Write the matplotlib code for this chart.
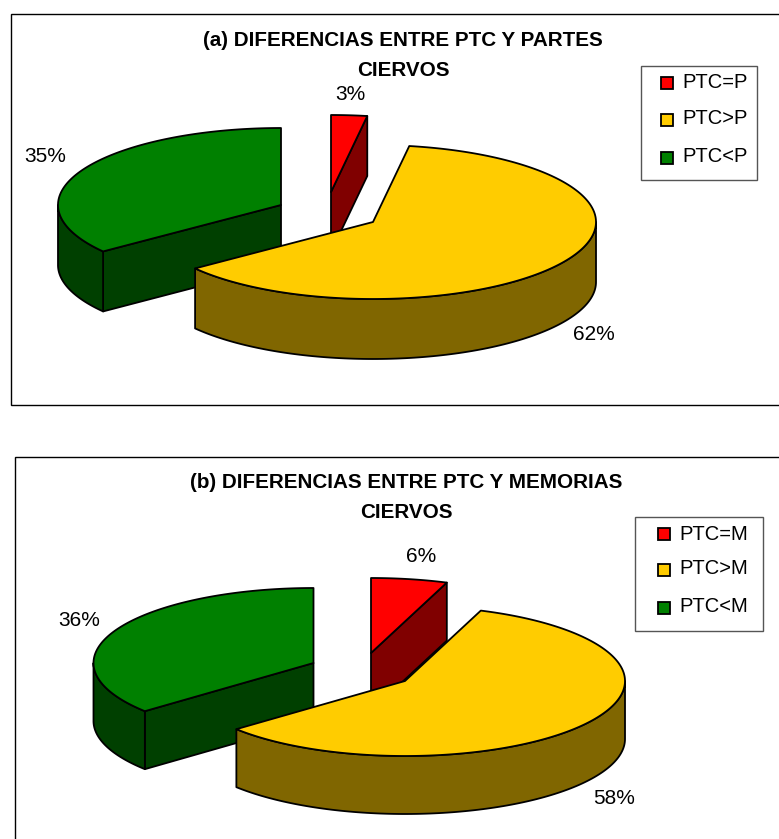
"""Two exploded 3D-style pie charts: PTC vs partes / memorias (ciervos)."""
import numpy as np
import matplotlib
matplotlib.use("Agg")
import matplotlib.pyplot as plt
from matplotlib.patches import Polygon, Rectangle

plt.rcParams["font.family"] = ["Liberation Sans", "DejaVu Sans"]

# ── Data ──────────────────────────────────────────────────────
values_a = [2.6, 62.1, 35.3]
values_b = [5.6, 58.3, 36.1]
legend_a = ["PTC=P", "PTC>P", "PTC<P"]
legend_b = ["PTC=M", "PTC>M", "PTC<M"]
title_a = ["(a) DIFERENCIAS ENTRE PTC Y PARTES", "CIERVOS"]
title_b = ["(b) DIFERENCIAS ENTRE PTC Y MEMORIAS", "CIERVOS"]

TOP_COLORS = ["#FF0000", "#FFCC00", "#008000"]
WALL_COLORS = ["#800000", "#806600", "#004000"]


def rim(apex, rx, ry, t):
    t = np.radians(t)
    return np.column_stack([apex[0] + rx * np.cos(t), apex[1] - ry * np.sin(t)])


def draw_slice(ax, apex, rx, ry, depth, t0, t1, top, wall):
    """Slice running clockwise from angle t0 down to t1, degrees."""
    kw = dict(edgecolor="black", linewidth=1.3, joinstyle="round")
    ap = np.array(apex, dtype=float)
    down = np.array([0, depth])

    # cut faces looking towards the viewer
    for t, show in ((t0, np.cos(np.radians(t0)) < -1e-6), (t1, np.cos(np.radians(t1)) > 1e-6)):
        if show:
            p = rim(ap, rx, ry, t)[0]
            ax.add_patch(Polygon([ap, p, p + down, ap + down], facecolor=wall, **kw))

    # outer wall, only the front half of the ellipse
    hi, lo = min(t0, 0), max(t1, -180)
    if hi > lo:
        arc = rim(ap, rx, ry, np.linspace(hi, lo, 120))
        ax.add_patch(Polygon(np.vstack([arc, (arc + down)[::-1]]), facecolor=wall, **kw))

    arc = rim(ap, rx, ry, np.linspace(t0, t1, 200))
    ax.add_patch(Polygon(np.vstack([ap, arc]), facecolor=top, **kw))


def draw_chart(ax, values, apexes, rx, ry, depth):
    edges = 90 - np.cumsum([0] + list(values)) * 3.6
    # back to front: green, red, yellow
    for i in (2, 0, 1):
        draw_slice(ax, apexes[i], rx, ry, depth, edges[i], edges[i + 1],
                   TOP_COLORS[i], WALL_COLORS[i])


def draw_legend(ax, box, labels, swatch_x, swatch_ys, text_x, text_ys):
    ax.add_patch(Rectangle((box[0], box[1]), box[2], box[3], facecolor="white",
                           edgecolor="#555555", linewidth=1.0))
    for lab, color, sy, ty in zip(labels, TOP_COLORS, swatch_ys, text_ys):
        ax.add_patch(Rectangle((swatch_x, sy), 12, 12, facecolor=color,
                               edgecolor="black", linewidth=1.3))
        ax.text(text_x, ty, lab, fontsize=LEGEND_FS, ha="left", va="center")


LEGEND_FS = 14.5
PCT_FS = 15
TITLE_FS = 14.9

fig = plt.figure(figsize=(7.79, 8.39), dpi=100)
ax = fig.add_axes([0, 0, 1, 1])
ax.set_xlim(0, 779)
ax.set_ylim(839, 0)
ax.axis("off")

# ── Frames ────────────────────────────────────────────────────
ax.add_patch(Rectangle((11.5, 13.5), 790, 391, facecolor="white", edgecolor="black", linewidth=1.0))
ax.add_patch(Rectangle((15.5, 456.5), 790, 420, facecolor="white", edgecolor="black", linewidth=1.0))

# ── Chart (a) ─────────────────────────────────────────────────
draw_chart(ax, values_a, [(331, 192), (373, 222), (281, 205)], 223, 77, 60)
for line, y in zip(title_a, (40, 70)):
    ax.text(403, y, line, fontsize=TITLE_FS, fontweight="bold", ha="center", va="center")
for v, x, y in zip(values_a, (350, 594, 45), (95, 335, 157)):
    ax.text(x, y, f"{round(v)}%", fontsize=PCT_FS, ha="center", va="center")
draw_legend(ax, (641, 65.5, 116, 114.5), legend_a, 661, (77, 114, 152), 682, (83, 119, 157))

# ── Chart (b) ─────────────────────────────────────────────────
draw_chart(ax, values_b, [(371, 653), (405, 681), (313.5, 663)], 220, 75, 58)
for line, y in zip(title_b, (483, 513)):
    ax.text(406, y, line, fontsize=TITLE_FS, fontweight="bold", ha="center", va="center")
for v, x, y in zip(values_b, (421, 614, 79), (556, 798, 620)):
    ax.text(x, y, f"{round(v)}%", fontsize=PCT_FS, ha="center", va="center")
draw_legend(ax, (635, 517, 128, 114), legend_b, 658, (528, 564, 602), 679, (534, 569, 607))

fig.savefig("out.png", dpi=100, facecolor="white")
